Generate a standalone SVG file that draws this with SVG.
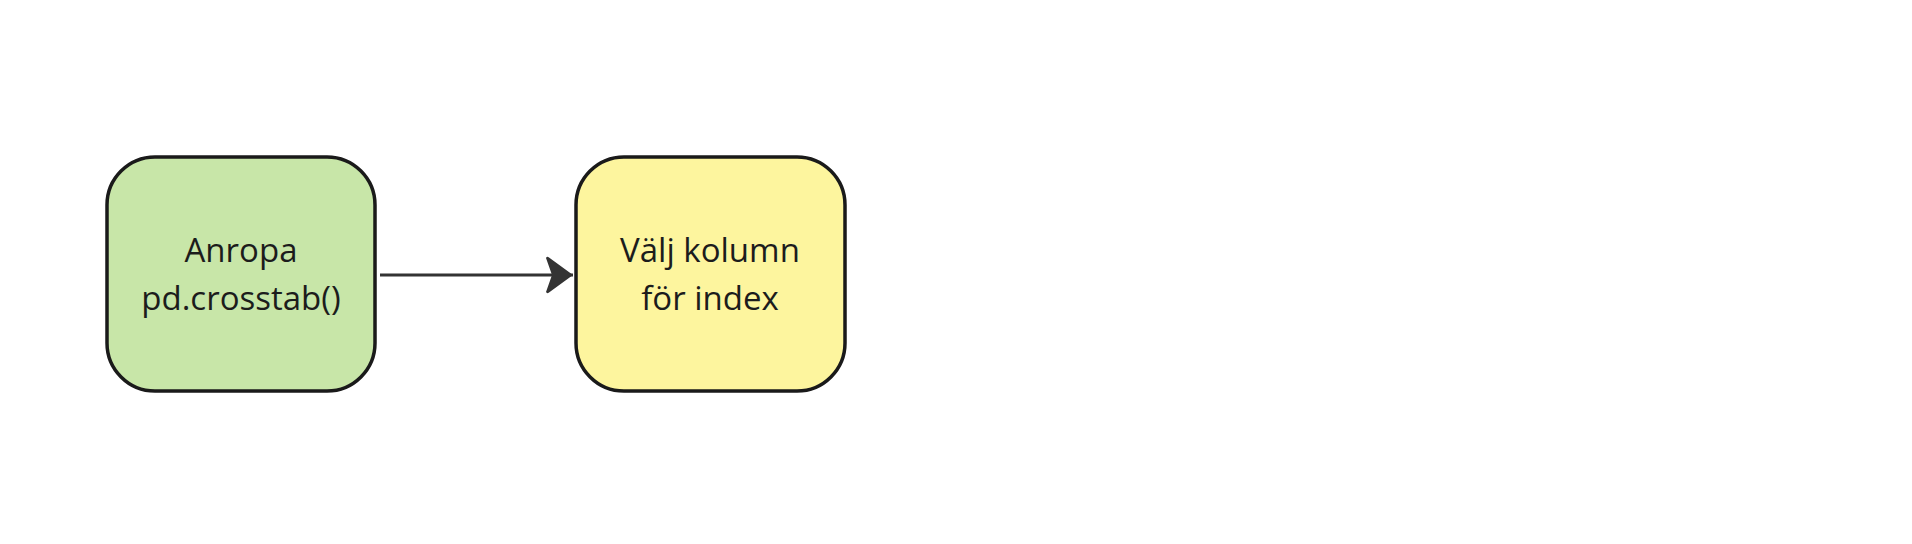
<svg xmlns="http://www.w3.org/2000/svg" width="1912" height="544" viewBox="0 0 1912 544">
<style>
.node rect{stroke:#1a1a1a;stroke-width:3.5}
.lbl{font-family:"Open Sans","Noto Sans","DejaVu Sans",sans-serif;font-size:33px;fill:#1c1c1c;text-anchor:middle}
.edge{stroke:#333;stroke-width:3;fill:none}
</style>
<defs>
<marker id="ah" markerUnits="userSpaceOnUse" markerWidth="30" markerHeight="38" refX="28" refY="19" orient="auto">
<path d="M1,2 Q2,0 4,1.5 L28,19 L4,36.5 Q2,38 1,36 L7,19 Z" fill="#333"/>
</marker>
</defs>
<rect width="1912" height="544" fill="#ffffff"/>
<g id="connectors">
<line class="edge" x1="380" y1="275" x2="573" y2="275" marker-end="url(#ah)"/>
</g>
<g id="node1" class="node">
<rect x="107" y="157" width="268" height="234" rx="48" ry="48" fill="#c8e6a8"/>
<text class="lbl" x="241" y="262">Anropa</text>
<text class="lbl" x="241" y="310">pd.crosstab()</text>
</g>
<g id="node2" class="node">
<rect x="576" y="157" width="269" height="234" rx="48" ry="48" fill="#fdf59e"/>
<text class="lbl" x="710" y="262">Välj kolumn</text>
<text class="lbl" x="710" y="310">för index</text>
</g>
</svg>
